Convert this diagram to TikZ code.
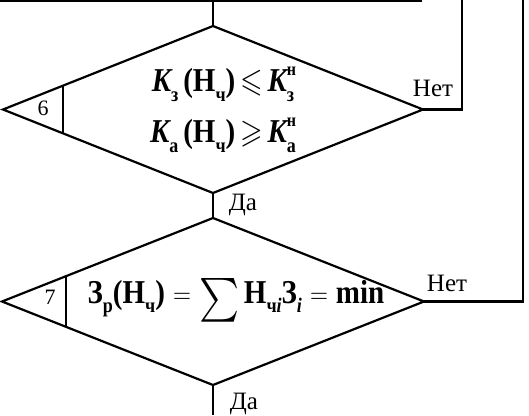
\documentclass[tikz,border=0pt]{standalone}
\usepackage{amsmath,amssymb}
\usepackage{graphicx}
\usepackage{fontspec}
\setmainfont{Liberation Serif}
\usetikzlibrary{shapes.geometric,calc}
\newcommand\tallbox[1]{\scalebox{1}[1.15]{#1}}
\newcommand\sbx[1]{\raisebox{-0.28em}{\fontsize{18}{18}\selectfont #1}}
\newcommand\spx[1]{\raisebox{0.5em}{\fontsize{16}{16}\selectfont #1}}
\tikzset{
  dia/.style={draw, diamond, inner sep=0pt, outer sep=0pt},
  lab/.style={font=\fontsize{25}{28}\selectfont, inner sep=0pt},
  num/.style={font=\fontsize{22}{24}\selectfont, inner sep=0pt},
  frm/.style={font=\fontsize{29}{34}\selectfont\bfseries, inner sep=0pt}
}
\begin{document}
\begin{tikzpicture}[x=1pt,y=-1pt,line width=2.2pt]
\useasboundingbox (0,0) rectangle (529,415);
\node[dia, minimum width=420pt, minimum height=167pt] (d1) at (213,109.5) {};
\node[dia, minimum width=422pt, minimum height=167pt] (d2) at (213,301.5) {};
\coordinate (tl) at (0,1);
\coordinate (tr) at (422,1);
\coordinate (r1) at (462,0);
\coordinate (r2) at (523,0);
\coordinate (bt) at (213,415);
\draw (tl) -- (tr);
\draw (d1.north) -- (d1.north |- tl);
\draw (d1.east) -| (r1);
\draw (d2.east) -| (r2);
\draw (d1.south) -- (d2.north);
\draw (d2.south) -- (bt);
\draw ($(d1.west)!0.2857!(d1.north)$) -- ($(d1.west)!0.2857!(d1.south)$);
\draw ($(d2.west)!0.303!(d2.north)$) -- ($(d2.west)!0.303!(d2.south)$);
\node[num] (n6) at (43,108) {6};
\node[num] (n7) at (50,297) {7};
\node[frm] (f1) at (223,84) {\tallbox{{\itshape K}\sbx{з}\,(Н\sbx{ч})\,$\leqslant$\,{\itshape K}\rlap{\spx{н}}\sbx{з}}};
\node[frm] (f2) at (223,135) {\tallbox{{\itshape K}\sbx{а}\,(Н\sbx{ч})\,$\geqslant$\,{\itshape K}\rlap{\spx{н}}\sbx{а}}};
\node[frm] (f3) at (236,300) {\tallbox{З\sbx{р}(Н\sbx{ч})\;$=$\;\raisebox{-0.12em}{\fontsize{38}{40}\selectfont$\sum$}\,Н\sbx{ч\textit{i}}З\sbx{\textit{i}}\;$=$\;min}};
\node[lab] (no1) at (433,88) {Нет};
\node[lab] (yes1) at (243,205) {Да};
\node[lab] (no2) at (447,283) {Нет};
\node[lab] (yes2) at (244,404) {Да};
\end{tikzpicture}
\end{document}
